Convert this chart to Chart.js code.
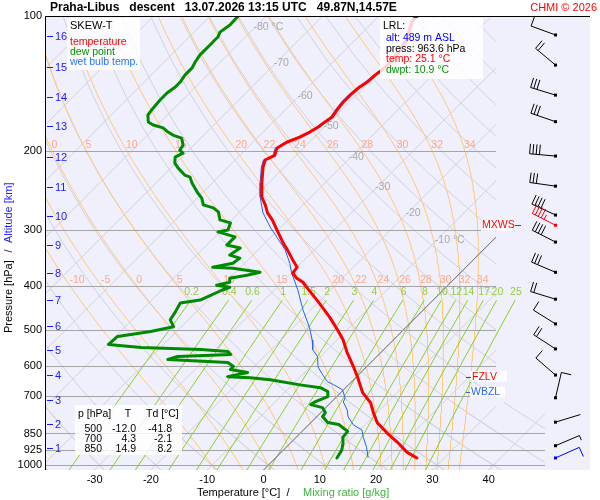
<!DOCTYPE html>
<html>
<head>
<meta charset="utf-8">
<title>Skew-T Praha-Libus</title>
<script src="https://cdn.jsdelivr.net/npm/chart.js@4.4.1/dist/chart.umd.min.js"></script>
<style>
  body { margin: 0; background: #fff; }
  #box { width: 600px; height: 500px; }
</style>
</head>
<body>
<div id="box"><canvas id="skewt" width="600" height="500"></canvas></div>
<script>
const FONT = '"Liberation Sans", Arial, Helvetica, sans-serif';

// sounding Praha-Libus, descent 13.07.2026 13:15 UTC (hPa / °C)
const tempP = [100, 102.1, 113.1, 119.1, 127.2, 131.9, 135.4, 140.3, 144.7, 150.0, 155.4, 161.9, 167.9, 172.1, 176.6,
  181.3, 186.1, 191.0, 197.0, 204.3, 209.2, 217.0, 235.4, 253.0, 263.4, 274.3, 284.4, 299.4, 320.0, 331.6, 349.6,
  362.4, 373.7, 383.6, 391.5, 403.9, 436.4, 468.7, 500.6, 526.5, 559.9, 604.2, 635.6, 689.6, 726.2, 764.8, 805.4,
  848.0, 888.3, 935.3, 963.6];
const tempT = [-53.2, -53.3, -50.8, -50.2, -49.7, -49.9, -50.2, -50.4, -50.9, -51.1, -51.1, -50.8, -50.4, -50.8, -51.1,
  -51.7, -52.6, -54.0, -54.7, -53.8, -54.7, -53.8, -51.2, -48.7, -46.7, -44.9, -42.8, -40.2, -36.8, -34.8, -32.0,
  -30.0, -29.7, -28.1, -26.3, -24.4, -19.6, -15.3, -11.6, -8.9, -6.1, -2.3, 0.15, 3.9, 7.1, 9.4, 11.9,
  15.4, 18.8, 22.3, 25.1];

const dewP = [100, 104.7, 108.6, 111.4, 116.0, 122.2, 126.6, 130.5, 135.4, 140.3, 143.9, 148.4, 153.8, 160.2, 166.1,
  172.1, 174.8, 177.5, 181.3, 184.1, 187.0, 193.9, 198.9, 202.0, 206.1, 212.5, 218.1, 226.0, 228.4, 235.4, 246.5,
  254.3, 263.4, 267.4, 272.9, 284.4, 288.8, 299.4, 302.5, 310.3, 323.6, 328.6, 340.6, 345.9, 355.2, 362.4, 364.3,
  371.8, 377.6, 383.6, 391.5, 397.6, 401.7, 407.9, 429.0, 435.5, 455.7, 474.6, 491.6, 504.1, 517.0, 538.5, 546.8,
  552.4, 558.1, 566.9, 572.7, 581.7, 590.8, 603.1, 612.5, 622.0, 635.6, 638.9, 645.5, 662.5, 672.0, 685.5, 703.4,
  721.6, 733.0, 744.4, 763.6, 779.3, 803.8, 811.9, 841.1, 867.2, 894.1, 926.6, 963.6];
const dewT = [-85.0, -84.9, -85.4, -84.9, -84.9, -84.9, -84.5, -84.0, -84.0, -83.6, -83.6, -84.0, -84.0, -83.8, -83.5,
  -82.2, -80.8, -78.5, -76.9, -75.5, -73.4, -71.9, -71.6, -70.5, -71.2, -70.2, -68.7, -66.3, -65.0, -63.6, -61.1,
  -59.2, -57.7, -55.4, -53.8, -52.1, -49.7, -48.9, -50.3, -46.4, -46.4, -43.5, -44.1, -41.8, -42.1, -45.0, -41.2,
  -35.7, -37.5, -40.0, -39.3, -41.1, -38.4, -39.3, -41.4, -44.4, -43.7, -43.2, -41.4, -44.6, -49.6, -49.8, -43.5,
  -32.5, -27.4, -26.3, -35.4, -36.6, -25.4, -23.7, -23.7, -20.1, -22.9, -18.7, -14.8, -8.6, -4.5, -2.5, -1.6,
  -2.9, -3.2, -0.6, 0.8, 1.0, 3.0, 5.3, 8.1, 8.3, 9.4, 10.4, 10.9];

const wetP = [100, 102.1, 113.1, 119.1, 127.2, 131.9, 135.4, 140.3, 144.7, 150.0, 155.4, 161.9, 167.9, 172.1, 176.6,
  181.3, 186.1, 191.0, 197.0, 204.3, 209.2, 217.0, 235.4, 253.0, 274.3, 295.0, 331.6, 355.2, 373.7, 407.6, 428.8,
  451.9, 493.7, 526.5, 553.1, 573.2, 604.2, 629.0, 651.8, 661.9, 679.3, 708.3, 723.0, 753.1, 780.6, 813.7, 835.2,
  866.3, 912.8, 960.0];
const wetT = [-53.5, -53.6, -51.1, -50.5, -50.0, -50.2, -50.5, -50.7, -51.2, -51.4, -51.4, -51.1, -50.7, -51.1, -51.4,
  -52.0, -52.9, -54.3, -55.0, -54.1, -55.0, -54.1, -51.5, -49.0, -45.7, -41.9, -35.2, -32.0, -29.9, -25.8, -23.6,
  -21.3, -17.1, -14.4, -12.6, -10.5, -8.6, -6.4, -4.3, -2.7, -0.2, 1.7, 2.1, 4.2, 5.6, 8.0, 10.4,
  11.9, 14.3, 16.3];

// wind (direction deg, speed kt); index 7 = max wind, last = surface
const windP = [110.2, 128.6, 150, 171.9, 205, 239.2, 277.4, 292.3, 318.6, 372, 427, 484.7, 551, 630, 708, 802, 905, 963.6];
const windDir = [290, 310, 287, 289, 275, 278, 295, 297, 297, 293, 287, 302, 303, 311, 13, 73, 67, 66];
const windKt = [10, 20, 30, 30, 40, 30, 40, 45, 40, 30, 20, 10, 20, 10, 10, 2, 5, 10];
const maxWindIdx = 7;

// axes
const pressTicks = [100, 200, 300, 400, 500, 600, 700, 850, 925, 1000];
const tempTicks = [-30, -20, -10, 0, 10, 20, 30, 40];
const altKm = [16, 15, 14, 13, 12, 11, 10, 9, 8, 7, 6, 5, 4, 3, 2, 1];
const altP = [110.8, 129.7, 151.3, 175.8, 206.5, 240.6, 278.9, 323.6, 374.0, 428.8, 489.5, 553.1, 630.3, 716.5, 810.5, 913.7];

// background lines of the diagram
const isoTemps = [-120, -110, -100, -90, -80, -70, -60, -50, -40, -30, -20, -10, 0, 10, 20, 30, 40];
const dryThetas = [-40, -30, -20, -10, 0, 10, 20, 30, 40, 50, 60, 70, 80, 90, 100, 110, 120, 130, 140, 150, 160, 170, 180, 190];
const mixRatios = [0.2, 0.4, 0.6, 1, 1.5, 2, 3, 4, 6, 8, 10, 12, 14, 17, 20, 25];
const moistThetaW = [-10, -5, 0, 5, 10, 15, 20, 22, 24, 26, 28, 30, 32, 34];
const moistLabelP = [200, 400];
const isoLabelT = [-80, -70, -60, -50, -40, -30, -20, -10];
const isoLabelP = [105.8, 127.3, 150.5, 175.8, 206.1, 240.4, 274.6, 315.4];

// info boxes
const fzlvP = 636, wbzlP = 686;
const lrlText = ['LRL:', 'alt: 489 m ASL', 'press: 963.6 hPa', 'temp: 25.1 °C', 'dwpt: 10.9 °C'];
const lrlColor = ['#000', '#0000ff', '#000', '#ff0000', '#009000'];
const tableP = [500, 700, 850];
const tableT = [-12.0, 4.3, 14.9];
const tableTd = [-41.8, -2.1, 8.2];

// skew geometry
const P_BOT = 1025, SKEW = 34.6;
const X_MIN = -38.81, X_MAX = 50.0, DIAG_RIGHT = 41.3;
const skewX = (T, p) => T + SKEW * Math.log(P_BOT / p);
const toPts = (ps, ts) => ps.map((p, i) => ({ x: skewX(ts[i], p), y: p }));

const levels = [];
for (let p = 1025; p >= 100; p -= 25) levels.push(p);

function satMix(T, p) {
  const es = 6.112 * Math.exp(17.67 * T / (T + 243.5));
  return 0.622 * es / (p - es);
}
function moistRate(T, p) {
  const Tk = T + 273.15, rs = satMix(T, p);
  const L = 2.501e6 - 2370 * T;
  return (287.04 * Tk + L * rs) / (1005.7 + L * L * rs * 0.622 / (287.04 * Tk * Tk)) / p;
}
function moistAdiabat(thw) {
  let T = thw, p = 1000;
  const step = dp => {
    const k1 = moistRate(T, p);
    const k2 = moistRate(T + k1 * dp / 2, p + dp / 2);
    T += k2 * dp; p += dp;
  };
  for (let i = 0; i < 5; i++) step(5);
  const out = [{ x: skewX(T, p), y: p }];
  while (p > 100.01) { step(-5); out.push({ x: skewX(T, p), y: p }); }
  return out;
}
function mixT(w, p) {
  const e = w * p / (622 + w);
  const l = Math.log(e / 6.112);
  return 243.5 * l / (17.67 - l);
}
function xsAt(pts, p) {
  for (let i = 0; i < pts.length - 1; i++) {
    const a = pts[i], b = pts[i + 1];
    if ((a.y - p) * (b.y - p) <= 0) {
      const f = Math.log(a.y / p) / Math.log(a.y / b.y);
      return a.x + (b.x - a.x) * f;
    }
  }
  return null;
}

const moistCurves = moistThetaW.map(moistAdiabat);
const mixLines = mixRatios.map(w => levels.filter(p => p >= 430).concat([430]).map(p => ({ x: skewX(mixT(w, p), p), y: p })));
const dryLine = (th, ps) => ps.map(p => ({ x: skewX((th + 273.15) * Math.pow(p / 1000, 0.2857) - 273.15, p), y: p }));
const lowLevels = levels.filter(p => p >= 725);

function line(points, color, width, clipRight) {
  return {
    data: points, showLine: true, borderColor: color, borderWidth: width,
    pointRadius: 0, pointHoverRadius: 0, fill: false, tension: 0,
    borderJoinStyle: 'round', borderCapStyle: 'round',
    clip: { left: 0, top: 0, bottom: 0, right: clipRight }
  };
}

const datasets = [
  line(toPts(tempP, tempT), '#ff0000', 3, 0),
  line(toPts(wetP, wetT), '#1e64f0', 1, 0),
  line(toPts(dewP, dewT), '#008a00', 3, 0),
  line([{ x: skewX(0, 1025), y: 1025 }, { x: skewX(0, 100), y: 100 }], '#6a6a6a', 1, -49)
];
mixLines.forEach(pts => datasets.push(line(pts, '#8ccf22', 1, 0)));
moistCurves.forEach(pts => datasets.push(line(pts, '#ffc878', 1, -49)));
dryThetas.forEach(th => datasets.push(line(dryLine(th, levels), '#d2d2dc', 1, -49)));
isoTemps.forEach(t => datasets.push(line([{ x: skewX(t, 1025), y: 1025 }, { x: skewX(t, 100), y: 100 }], '#d2d2dc', 1, -49)));
// lower part of the diagram reaches further right
dryThetas.forEach(th => datasets.push(line(dryLine(th, lowLevels), '#d2d2dc', 1, 0)));
datasets.push(line([{ x: skewX(40, 1025), y: 1025 }, { x: skewX(40, 725), y: 725 }], '#d2d2dc', 1, 0));

function txt(c, s, x, y, color, size, align, bold) {
  c.font = (bold ? 'bold ' : '') + size + 'px ' + FONT;
  c.fillStyle = color;
  c.textAlign = align || 'left';
  c.textBaseline = 'middle';
  c.fillText(s, x, y);
}

function drawBarb(c, x, y, dir, kt, color) {
  const a = dir * Math.PI / 180;
  const ux = Math.sin(a), uy = -Math.cos(a);
  const vx = -uy, vy = ux;
  const L = 26, B = 10, S = 3.3;
  const ex = x + ux * L, ey = y + uy * L;
  c.save();
  c.strokeStyle = color; c.fillStyle = color; c.lineWidth = 1;
  c.beginPath();
  c.moveTo(x, y); c.lineTo(ex, ey);
  let rest = Math.round(kt / 5) * 5, k = 0;
  while (rest >= 10) {
    const bx = ex - ux * S * k, by = ey - uy * S * k;
    c.moveTo(bx, by); c.lineTo(bx + vx * B, by + vy * B);
    rest -= 10; k++;
  }
  if (rest >= 5) {
    const bx = ex - ux * S * k, by = ey - uy * S * k;
    c.moveTo(bx, by); c.lineTo(bx + vx * B / 2, by + vy * B / 2);
  }
  c.stroke();
  c.fillRect(x - 1.5, y - 1.5, 3, 3);
  c.restore();
}

function box(c, x, y, w, h) {
  c.fillStyle = 'rgba(255,255,255,0.82)';
  c.fillRect(x, y, w, h);
}

const decor = {
  id: 'skewDecor',
  beforeDraw(chart) {
    const c = chart.ctx, a = chart.chartArea;
    c.save();
    c.fillStyle = '#fff';
    c.fillRect(0, 0, chart.width, chart.height);
    c.fillStyle = '#f0f0fc';
    c.fillRect(a.left, a.top, 590 - a.left, a.bottom - a.top);
    c.restore();
  },
  beforeDatasetDraw(chart, args) {
    if (args.index !== 2) return;
    const c = chart.ctx, xs = chart.scales.x, ys = chart.scales.y, a = chart.chartArea;
    c.save();
    // pressure levels
    c.strokeStyle = '#a4a4a4'; c.lineWidth = 1;
    pressTicks.forEach(p => {
      const y = Math.round(ys.getPixelForValue(p)) + 0.5;
      const xr = xs.getPixelForValue(p >= 850 ? X_MAX : DIAG_RIGHT);
      c.beginPath(); c.moveTo(a.left, y); c.lineTo(xr, y); c.stroke();
    });
    // isotherm labels
    isoLabelT.forEach((t, i) => {
      const s = (i === 0 || i === isoLabelT.length - 1) ? t + ' °C' : String(t);
      txt(c, s, xs.getPixelForValue(skewX(t, isoLabelP[i])) - 2, ys.getPixelForValue(isoLabelP[i]), '#a8a8a8', 10.5);
    });
    // moist adiabat labels, written just above the 200 and 400 hPa lines
    moistLabelP.forEach(p => {
      moistCurves.forEach((pts, i) => {
        const v = xsAt(pts, p);
        if (v === null) return;
        const x = xs.getPixelForValue(v);
        if (x < a.left || x > 488) return;
        txt(c, String(moistThetaW[i]), x - 1, ys.getPixelForValue(p) - 6, '#ffa888', 10.5, 'left');
      });
    });
    // mixing ratio labels
    mixLines.forEach((pts, i) => {
      const top = pts[pts.length - 1];
      txt(c, String(mixRatios[i]), xs.getPixelForValue(top.x) + 1, ys.getPixelForValue(412), '#96cc3c', 10.5, 'center');
    });
    // altitude ticks
    c.strokeStyle = '#1a1aff';
    altKm.forEach((km, i) => {
      const y = Math.round(ys.getPixelForValue(altP[i])) + 0.5;
      c.beginPath(); c.moveTo(a.left + 2, y); c.lineTo(a.left + 8, y); c.stroke();
      txt(c, String(km), a.left + 10, y, '#1a1aff', 11);
    });
    c.restore();
  },
  afterDatasetsDraw(chart) {
    const c = chart.ctx, ys = chart.scales.y, a = chart.chartArea;
    c.save();
    // frame
    c.strokeStyle = '#000'; c.lineWidth = 1;
    c.beginPath();
    c.moveTo(a.left + 0.5, a.bottom); c.lineTo(a.left + 0.5, a.top + 0.5); c.lineTo(590, a.top + 0.5);
    c.stroke();

    // legend box
    box(c, 67, 18, 73, 52);
    txt(c, 'SKEW-T', 70, 26, '#000', 11);
    txt(c, 'temperature', 70, 42, '#ff0000', 10.5);
    txt(c, 'dew point', 70, 52, '#009000', 10.5);
    txt(c, 'wet bulb temp.', 70, 62, '#2a72ff', 10.5);

    // LRL box
    box(c, 380, 18, 103, 61);
    lrlText.forEach((s, i) => txt(c, s, i === 0 ? 383 : 386, 26 + (i === 0 ? 0 : 2 + i * 10.5), lrlColor[i], 10.5));

    // standard levels table
    box(c, 75, 405, 107, 50);
    txt(c, 'p [hPa]', 78, 414, '#000', 10.5);
    txt(c, 'T', 128, 414, '#000', 10.5, 'center');
    txt(c, 'Td [°C]', 146, 414, '#000', 10.5);
    tableP.forEach((p, i) => {
      const y = 429 + i * 10;
      txt(c, String(p), 102, y, '#000', 10.5, 'right');
      txt(c, tableT[i].toFixed(1), 136, y, '#000', 10.5, 'right');
      txt(c, tableTd[i].toFixed(1), 172, y, '#000', 10.5, 'right');
    });

    // freezing / wet-bulb zero levels
    const yf = ys.getPixelForValue(fzlvP), yw = ys.getPixelForValue(wbzlP);
    box(c, 470, yf - 6, 37, 11);
    box(c, 470, yw - 5, 35, 10.5);
    c.lineWidth = 1;
    c.strokeStyle = '#ff0000';
    c.beginPath(); c.moveTo(466, Math.round(yf) + 0.5); c.lineTo(471, Math.round(yf) + 0.5); c.stroke();
    txt(c, 'FZLV', 472, yf, '#ff0000', 10.5);
    c.strokeStyle = '#2a6ae8';
    c.beginPath(); c.moveTo(466, Math.round(yw) + 0.5); c.lineTo(470, Math.round(yw) + 0.5); c.stroke();
    txt(c, 'WBZL', 471, yw, '#2a6ae8', 10.5);

    // max wind label
    const ym = ys.getPixelForValue(windP[maxWindIdx]);
    box(c, 481, ym - 5, 32, 11);
    txt(c, 'MXWS', 482, ym, '#ff0000', 10.5);
    c.strokeStyle = '#ff0000';
    c.beginPath(); c.moveTo(515, Math.round(ym) + 0.5); c.lineTo(521, Math.round(ym) + 0.5); c.stroke();

    // wind barbs
    windP.forEach((p, i) => {
      const col = i === maxWindIdx ? '#ff0000' : (i === windP.length - 1 ? '#0000ff' : '#000');
      drawBarb(c, 555.5, ys.getPixelForValue(p), windDir[i], windKt[i], col);
    });
    c.restore();
  },
  afterDraw(chart) {
    const c = chart.ctx;
    c.save();
    txt(c, 'Praha-Libus   descent   13.07.2026 13:15 UTC   49.87N,14.57E', 50, 8, '#000', 12, 'left', true);
    txt(c, 'CHMI © 2026', 597, 8, '#ff0000', 11, 'right');
    // x axis title
    txt(c, 'Temperature [°C]', 197, 493, '#000', 11);
    txt(c, '/', 288, 493, '#000', 11, 'center');
    txt(c, 'Mixing ratio [g/kg]', 303, 493, '#3cb43c', 11);
    // y axis title (rotated, reads bottom to top)
    c.translate(9, 0);
    c.rotate(-Math.PI / 2);
    txt(c, 'Pressure [hPa]', -333, 0, '#000', 11);
    txt(c, '/', -251, 0, '#000', 11, 'center');
    txt(c, 'Altitude [km]', -243, 0, '#1a1aff', 11);
    c.restore();
  }
};

new Chart(document.getElementById('skewt').getContext('2d'), {
  type: 'scatter',
  data: { datasets },
  options: {
    responsive: false,
    animation: false,
    events: [],
    layout: { padding: { top: 16, right: 55, left: 0, bottom: 0 } },
    plugins: { legend: { display: false }, tooltip: { enabled: false } },
    scales: {
      x: {
        type: 'linear', min: X_MIN, max: X_MAX,
        afterBuildTicks: s => { s.ticks = tempTicks.map(v => ({ value: v })); },
        afterFit: s => { s.height = 30; },
        grid: { display: false, drawTicks: false },
        border: { display: false },
        ticks: { color: '#000', padding: 3, font: { size: 11, family: FONT }, maxRotation: 0 }
      },
      y: {
        type: 'logarithmic', reverse: true, min: 100, max: P_BOT,
        afterBuildTicks: s => { s.ticks = pressTicks.map(v => ({ value: v })); },
        afterFit: s => { s.width = 45; },
        grid: { display: false, drawTicks: false },
        border: { display: false },
        ticks: { color: '#000', padding: 3, font: { size: 11, family: FONT }, callback: v => String(v) }
      }
    }
  },
  plugins: [decor]
});
</script>
</body>
</html>
